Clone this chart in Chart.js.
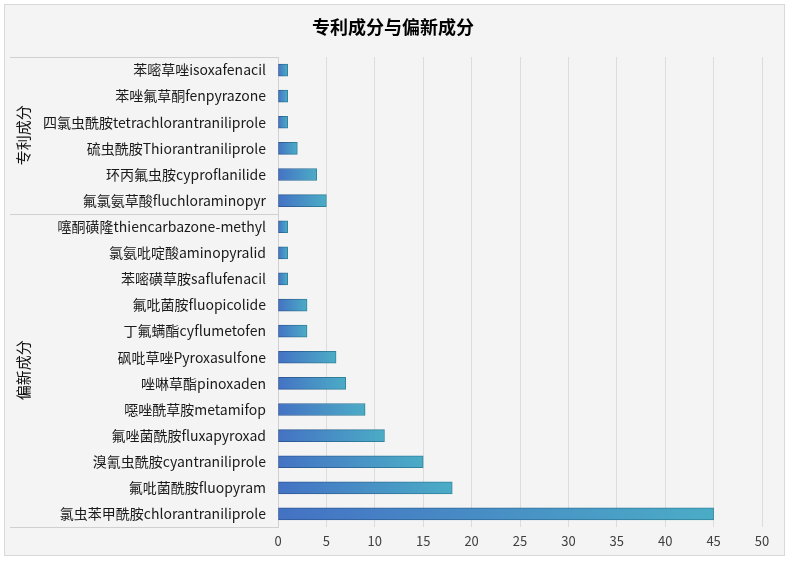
<!DOCTYPE html>
<html><head><meta charset="utf-8">
<script src="https://cdn.jsdelivr.net/npm/chart.js@4"></script>
<style>html,body{margin:0;padding:0;background:#fff;}#wrap{width:788px;height:562px;}</style>
</head><body><div id="wrap"><canvas id="c" width="788" height="562"></canvas></div>
<script>
const title = '专利成分与偏新成分';
const categories = [
 '苯嘧草唑isoxafenacil','苯唑氟草酮fenpyrazone','四氯虫酰胺tetrachlorantraniliprole','硫虫酰胺Thiorantraniliprole',
 '环丙氟虫胺cyproflanilide','氟氯氨草酸fluchloraminopyr',
 '噻酮磺隆thiencarbazone-methyl','氯氨吡啶酸aminopyralid','苯嘧磺草胺saflufenacil','氟吡菌胺fluopicolide',
 '丁氟螨酯cyflumetofen','砜吡草唑Pyroxasulfone','唑啉草酯pinoxaden','噁唑酰草胺metamifop','氟唑菌酰胺fluxapyroxad',
 '溴氰虫酰胺cyantraniliprole','氟吡菌酰胺fluopyram','氯虫苯甲酰胺chlorantraniliprole'];
const values = [1,1,1,2,4,5, 1,1,1,3,3,6,7,9,11,15,18,45];
const groups = ['专利成分','偏新成分'];
const groupSizes = [6,12];
const xTicks = [0,5,10,15,20,25,30,35,40,45,50];

const FONT = '"Noto Sans CJK SC","Noto Sans",sans-serif';

function grad(ctx, fill){
  const ch = ctx.chart;
  if(!ch.chartArea || !ch.scales.x) return fill ? '#4a90c8' : '#2f6fa0';
  const xs = ch.scales.x;
  const x0 = xs.getPixelForValue(0), x1 = xs.getPixelForValue(ctx.raw);
  const g = ch.ctx.createLinearGradient(x0,0,Math.max(x1,x0+1),0);
  if(fill){ g.addColorStop(0,'#4472c4'); g.addColorStop(1,'#4bacc6'); }
  else { g.addColorStop(0,'#2f5597'); g.addColorStop(1,'#31859c'); }
  return g;
}

const decor = {
  id:'decor',
  beforeDraw(chart){
    const c = chart.ctx;
    c.save();
    c.fillStyle='#f4f4f4';
    c.fillRect(4,4,781,552);
    c.strokeStyle='#d9d9d9'; c.lineWidth=1;
    c.strokeRect(4.5,4.5,780,551);
    c.fillStyle='#000';
    c.font='bold 18px '+FONT;
    c.textAlign='center'; c.textBaseline='middle';
    c.fillText(title, 393, 27);
    c.restore();
  },
  afterDraw(chart){
    const c = chart.ctx, area = chart.chartArea;
    c.save();
    c.strokeStyle='#d0d0d0'; c.lineWidth=1;
    const left = 10, right = area.left;
    const step = (area.bottom-area.top)/categories.length;
    let idx = 0;
    const bounds=[area.top];
    groupSizes.forEach(n=>{ idx+=n; bounds.push(area.top+idx*step); });
    bounds.forEach(b=>{ const yy=Math.round(b)+0.5; c.beginPath(); c.moveTo(left,yy); c.lineTo(right,yy); c.stroke(); });
    c.fillStyle='#111';
    c.font='15px '+FONT;
    c.textAlign='center'; c.textBaseline='middle';
    groups.forEach((g,i)=>{
      const cy=(bounds[i]+bounds[i+1])/2;
      c.save(); c.translate(23,cy); c.rotate(-Math.PI/2); c.fillText(g,0,0); c.restore();
    });
    c.restore();
  }
};

new Chart(document.getElementById('c'),{
  type:'bar',
  data:{labels:categories,datasets:[{data:values,
    backgroundColor:(ctx)=>grad(ctx,true),
    borderColor:(ctx)=>grad(ctx,false),
    borderWidth:1, borderSkipped:false, barThickness:12}]},
  options:{
    indexAxis:'y', responsive:false, animation:false,
    layout:{padding:{top:57,bottom:5,left:0,right:26}},
    plugins:{legend:{display:false},title:{display:false},tooltip:{enabled:false}},
    scales:{
      x:{min:0,max:50,
        afterBuildTicks(s){ s.ticks = xTicks.map(v=>({value:v})); },
        afterFit(s){ s.height=30; },
        grid:{color:'#dcdcdc',drawTicks:false,lineWidth:1},
        border:{display:false},
        ticks:{color:'#404040',font:{family:FONT,size:13},padding:6,maxRotation:0}},
      y:{
        afterFit(s){ s.width=278; },
        grid:{display:false,drawTicks:false},
        border:{display:true,color:'#d0d0d0'},
        ticks:{color:'#1a1a1a',font:{family:FONT,size:14},padding:12,autoSkip:false}}
    }
  },
  plugins:[decor]
});
</script></body></html>
